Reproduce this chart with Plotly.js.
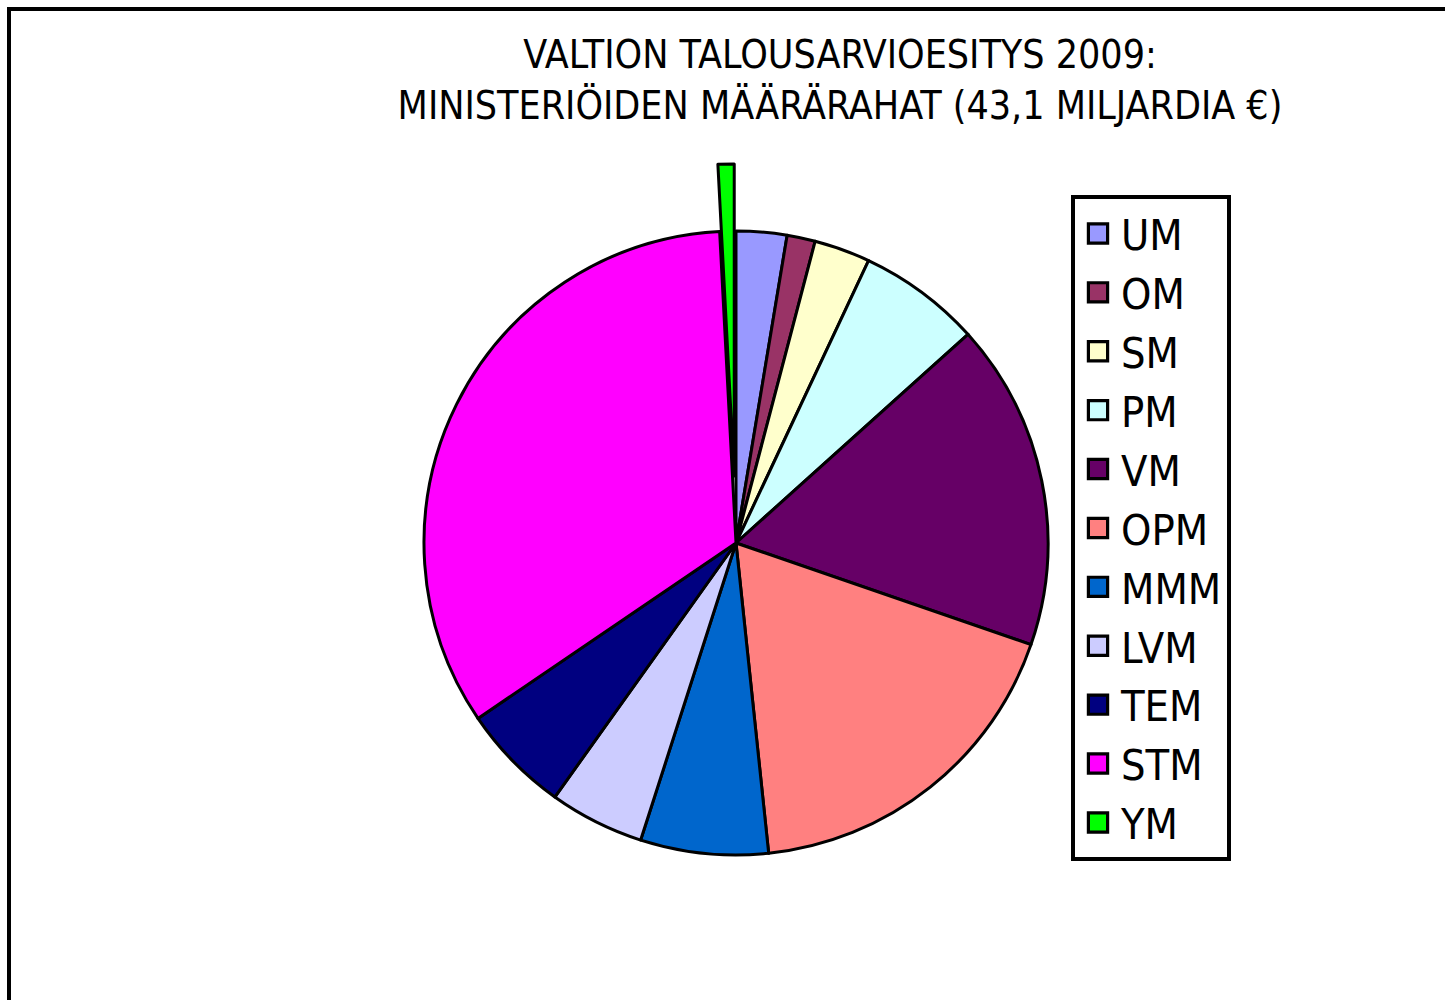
<!DOCTYPE html>
<html>
<head>
<meta charset="utf-8">
<script src="https://cdn.plot.ly/plotly-3.0.1.min.js"></script>
<style>html,body{margin:0;padding:0;background:#fff;}#chart{width:1445px;height:1000px;}</style>
</head>
<body>
<div id="chart"></div>
<script>
// Ministries (labels) and appropriations in billions of euros
const ministries = ["UM", "OM", "SM", "PM", "VM", "OPM", "MMM", "LVM", "TEM", "STM", "YM"];
const appropriations = [1.13, 0.63, 1.25, 2.74, 7.30, 7.78, 2.85, 2.12, 2.43, 14.51, 0.36];
const sliceColors = ["#9999FF", "#993366", "#FFFFCC", "#CCFFFF", "#660066", "#FF8080",
                     "#0066CC", "#CCCCFF", "#000080", "#FF00FF", "#00FF00"];
const pulls = [0, 0, 0, 0, 0, 0, 0, 0, 0, 0, 0.215];
const titleText = "VALTION TALOUSARVIOESITYS 2009:<br>MINISTERIÖIDEN MÄÄRÄRAHAT (43,1 MILJARDIA €)";

const FONT = "'Liberation Sans Narrow', 'Arial Narrow', 'DejaVu Sans Condensed', 'Liberation Sans', sans-serif";
const W = 1445, H = 1000;
const cx = 736, cy = 543, R = 312;
const maxPull = Math.max(...pulls);
const half = R * (1 + maxPull);

const data = [{
  type: "pie",
  labels: ministries,
  values: appropriations,
  pull: pulls,
  sort: false,
  direction: "clockwise",
  rotation: 0,
  textinfo: "none",
  marker: { colors: sliceColors, line: { color: "#000000", width: 3 } },
  domain: { x: [(cx - half) / W, (cx + half) / W], y: [1 - (cy + half) / H, 1 - (cy - half) / H] }
}];

const layout = {
  width: W, height: H,
  margin: { l: 0, r: 0, t: 0, b: 0 },
  paper_bgcolor: "#ffffff",
  plot_bgcolor: "#ffffff",
  font: { family: FONT, color: "#000000" },
  title: {
    text: titleText,
    font: { family: FONT, size: 39, color: "#000000" },
    x: 840 / W, xanchor: "center", xref: "paper",
    y: 1 - 68 / H, yanchor: "top", yref: "container"
  },
  showlegend: true,
  legend: {
    x: 1071 / W, xanchor: "left",
    y: 1 - 195 / H, yanchor: "top",
    bgcolor: "#ffffff",
    bordercolor: "#000000", borderwidth: 4,
    font: { family: FONT, size: 43, color: "#000000" },
    itemwidth: 36,
    traceorder: "normal"
  },
  shapes: [{
    type: "rect", xref: "paper", yref: "paper",
    x0: 9 / W, x1: 1.05, y0: -0.05, y1: 1 - 9 / H,
    line: { color: "#000000", width: 4 }, fillcolor: "rgba(0,0,0,0)", layer: "below"
  }]
};

Plotly.newPlot("chart", data, layout, { displayModeBar: false, staticPlot: true }).then(function (gd) {
  function enlargeSymbols() {
    document.querySelectorAll("#chart .legendpoints path").forEach(function (p) {
      if (p.getAttribute("data-enlarged")) return;
      const t = p.getAttribute("transform") || "";
      p.setAttribute("transform", (t + " scale(1.6)").trim());
      p.style.strokeWidth = "2px";
      p.setAttribute("data-enlarged", "1");
    });
  }
  enlargeSymbols();
  gd.on("plotly_afterplot", enlargeSymbols);
});
</script>
</body>
</html>
